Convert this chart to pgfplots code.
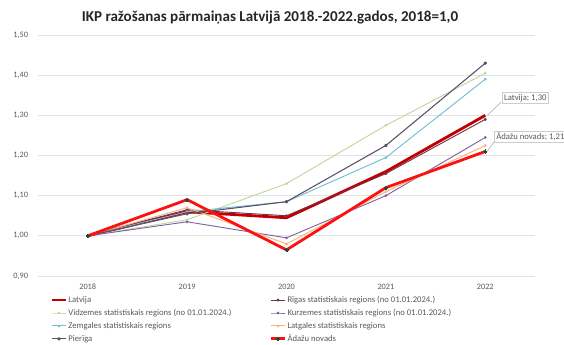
\documentclass[border=0pt]{standalone}
\usepackage{pgfplots}
\pgfplotsset{compat=1.18}
\usepackage{fontspec}
\setmainfont{Carlito}
\definecolor{cLat}{HTML}{C00000}
\definecolor{cRig}{HTML}{7A2E4A}
\definecolor{cVid}{HTML}{C3D69B}
\definecolor{cKur}{HTML}{8064A2}
\definecolor{cZem}{HTML}{6FBFD6}
\definecolor{cLtg}{HTML}{F9B27A}
\definecolor{cPie}{HTML}{5A5068}
\definecolor{cAda}{HTML}{FF1010}
\definecolor{cAdaM}{HTML}{1F4A35}
\definecolor{cGrid}{HTML}{E3E3E3}
\definecolor{cTxt}{HTML}{595959}
\begin{document}
\begin{tikzpicture}[x=1pt,y=1pt]
\useasboundingbox (0,0) rectangle (423,258);
\node[font=\bfseries\fontsize{11.3}{13}\selectfont, text=black!85] at (202.5,245) {IKP ražošanas pārmaiņas Latvijā 2018.-2022.gados, 2018=1,0};
\begin{axis}[
  at={(28.5pt,51pt)}, anchor=south west,
  scale only axis, width=372.75pt, height=180.75pt,
  clip=false,
  xmin=2017.5, xmax=2022.5, ymin=0.9, ymax=1.5,
  xtick={2018,2019,2020,2021,2022},
  xticklabels={2018,2019,2020,2021,2022},
  ytick={0.9,1.0,1.1,1.2,1.3,1.4,1.5},
  yticklabel style={/pgf/number format/fixed, /pgf/number format/fixed zerofill, /pgf/number format/precision=2, /pgf/number format/use comma, /pgf/number format/assume math mode=true, xshift=-4pt},
  ticklabel style={font=\fontsize{6.2}{7}\selectfont, text=cTxt},
  xticklabel style={yshift=-2.5pt},
  axis line style={draw=none},
  major tick length=0pt,
  ymajorgrids, grid style={cGrid, line width=0.6pt},
  legend columns=2,
  legend cell align=left,
  legend style={draw=none, fill=none, at={(axis description cs:0.024,-0.078)}, anchor=north west,
    inner sep=0pt, font=\fontsize{6.5}{7}\selectfont, text=cTxt,
    nodes={inner sep=0.6pt, text height=4.8pt, text depth=1.5pt},
    row sep=2.2pt,
    /tikz/every even column/.append style={column sep=0pt}},
  legend image code/.code={\draw[mark repeat=2,mark phase=2,#1] plot coordinates {(0pt,0pt) (5.5pt,0pt) (11pt,0pt)};},
  every axis plot/.append style={line join=round},
]
% Latvija
\addplot[cLat, line width=2.1pt] coordinates {(2018,1.00) (2019,1.06) (2020,1.045) (2021,1.16) (2022,1.30)};
\addlegendentry{\makebox[150pt][l]{Latvija}}
% Rigas
\addplot[cRig, line width=0.7pt, mark=*, mark size=0.8pt] coordinates {(2018,1.00) (2019,1.065) (2020,1.05) (2021,1.155) (2022,1.29)};
\addlegendentry{Rīgas statistiskais regions (no 01.01.2024.)}
% Vidzemes
\addplot[cVid, line width=0.7pt, mark=*, mark size=0.7pt] coordinates {(2018,1.00) (2019,1.04) (2020,1.13) (2021,1.275) (2022,1.405)};
\addlegendentry{\makebox[150pt][l]{Vidzemes statistiskais regions (no 01.01.2024.)}}
% Kurzemes
\addplot[cKur, line width=0.7pt, mark=*, mark size=0.7pt] coordinates {(2018,1.00) (2019,1.035) (2020,0.995) (2021,1.10) (2022,1.245)};
\addlegendentry{Kurzemes statistiskais regions (no 01.01.2024.)}
% Zemgales
\addplot[cZem, line width=0.7pt, mark=*, mark size=0.7pt] coordinates {(2018,1.00) (2019,1.06) (2020,1.085) (2021,1.195) (2022,1.39)};
\addlegendentry{\makebox[150pt][l]{Zemgales statistiskais regions}}
% Latgales
\addplot[cLtg, line width=0.7pt, mark=*, mark size=0.7pt] coordinates {(2018,1.00) (2019,1.07) (2020,0.98) (2021,1.11) (2022,1.225)};
\addlegendentry{Latgales statistiskais regions}
% Pieriga
\addplot[cPie, line width=0.8pt, mark=*, mark size=0.9pt] coordinates {(2018,1.00) (2019,1.055) (2020,1.085) (2021,1.225) (2022,1.43)};
\addlegendentry{\makebox[150pt][l]{Pierīga}}
% Adazu
\addplot[cAda, line width=2.1pt, mark=*, mark size=1.2pt, mark options={fill=cAdaM, draw=cAdaM, line width=0pt}] coordinates {(2018,1.00) (2019,1.09) (2020,0.965) (2021,1.12) (2022,1.21)};
\addlegendentry{Ādažu novads}
% data labels
\draw[black!35, line width=0.4pt] (axis cs:2022.02,1.30) -- (axis cs:2022.16,1.333);
\node[draw=black!20, fill=white, inner sep=1.3pt, font=\fontsize{6.5}{7}\selectfont, text=cTxt, anchor=west] at (axis cs:2022.17,1.343) {Latvija; 1,30};
\draw[black!35, line width=0.4pt] (axis cs:2022.02,1.21) -- (axis cs:2022.09,1.235);
\node[draw=black!20, fill=white, inner sep=1.3pt, font=\fontsize{6.5}{7}\selectfont, text=cTxt, anchor=west] at (axis cs:2022.09,1.246) {Ādažu novads; 1,21};
\end{axis}
\end{tikzpicture}
\end{document}
